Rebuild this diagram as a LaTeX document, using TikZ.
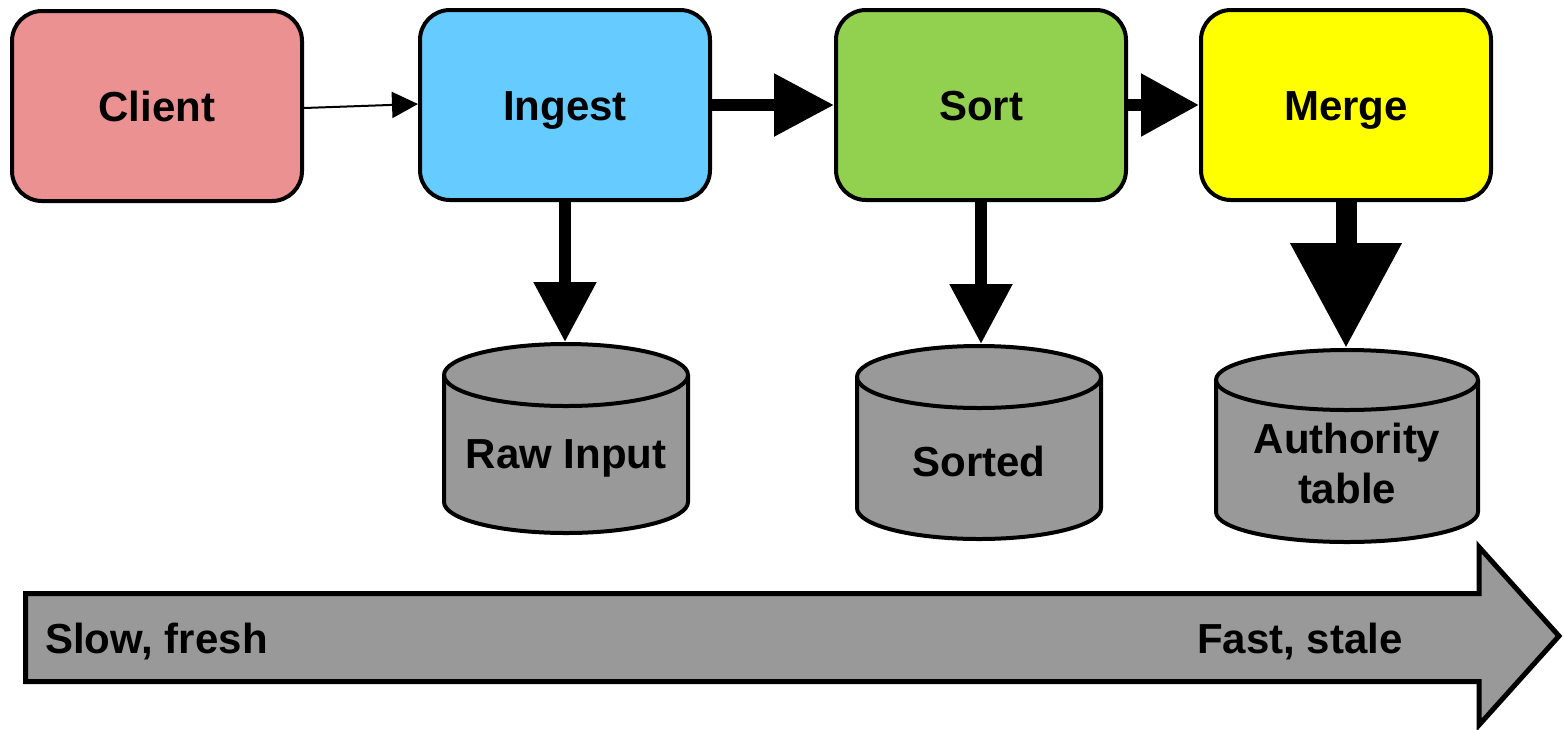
\documentclass[tikz,border=0pt]{standalone}
\usepackage{fontspec}
\setmainfont{Liberation Sans}
\usetikzlibrary{arrows.meta,calc}
\definecolor{clientred}{RGB}{236,145,145}
\definecolor{ingestblue}{RGB}{102,204,255}
\definecolor{sortgreen}{RGB}{146,208,80}
\definecolor{mergeyellow}{RGB}{255,255,0}
\definecolor{storegray}{RGB}{153,153,153}

% cylinder body: #1 centre x, #2 x radius, #3 top ellipse y, #4 bottom ellipse y, #5 y radius
\newcommand{\cylbody}[5]{%
  \draw[store] (#1-#2,#3) -- (#1-#2,#4)
    arc[start angle=180,end angle=0,x radius=#2,y radius=#5]
    -- (#1+#2,#3)
    arc[start angle=0,end angle=-180,x radius=#2,y radius=#5] -- cycle;
  \draw[store,fill=none] (#1-#2,#3)
    arc[start angle=180,end angle=0,x radius=#2,y radius=#5];}

\begin{document}
\begin{tikzpicture}[x=1pt,y=-1pt,
  bigfont/.style={font=\fontsize{42}{50}\selectfont\bfseries},
  stage/.style={draw,line width=4pt,rounded corners=30pt,
    minimum width=290pt,minimum height=190pt,inner sep=0pt,
    text height=31pt,text depth=0pt,bigfont},
  store/.style={draw,line width=4pt,fill=storegray,line join=round},
  lbl/.style={bigfont,align=center,inner sep=0pt},
  flow/.style={line width=12pt,-{Triangle[length=60pt,width=60pt]}}]
\useasboundingbox (0,0) rectangle (1564,729);

% processing stages
\node[stage,fill=clientred]   (client) at (157,106) {Client};
\node[stage,fill=ingestblue]  (ingest) at (565,105) {Ingest};
\node[stage,fill=sortgreen]   (sort)   at (981,105) {Sort};
\node[stage,fill=mergeyellow] (merge)  at (1346,105) {Merge};

% storage cylinders
\cylbody{566}{122}{375}{502}{31}
\cylbody{979}{122}{377}{508}{31}
\cylbody{1347}{131}{380}{512}{30}
\coordinate (rawtop)    at (566,342);
\coordinate (sortedtop) at (979,344);
\coordinate (authtop)   at (1347,348);
\node[lbl,anchor=base] (rawlbl)    at (566,468) {Raw Input};
\node[lbl,anchor=base] (sortedlbl) at (979,476) {Sorted};
\node[lbl,anchor=base] (authlbl)   at (1347,503) {Authority\\table};

% flow between stages
\draw[line width=2pt,-{Triangle[length=26pt,width=26pt]}]
  ($(client.east)+(0,2)$) -- ($(ingest.west)+(0,-1)$);
\draw[flow] (ingest) -- (sort);
\draw[line width=12pt,-{Triangle[length=58pt,width=60pt]}] (sort) -- (merge);

% writes to storage
\draw[flow] (ingest.south) -- (ingest.south |- rawtop);
\draw[flow] (sort.south) -- (sort.south |- sortedtop);
\draw[line width=21pt,-{Triangle[length=105pt,width=106pt]}]
  (merge.south) -- (merge.south |- authtop);

% freshness scale
\draw[line width=5pt,fill=storegray,line join=miter]
  (25.5,593.5) -- (1479,593.5) -- (1479,547) -- (1559,636)
  -- (1479,725) -- (1479,681.5) -- (25.5,681.5) -- cycle;
\node[lbl,anchor=base west] (slowlbl) at (45,653) {Slow, fresh};
\node[lbl,anchor=base] (fastlbl) at (1300,653) {Fast, stale};
\end{tikzpicture}
\end{document}
